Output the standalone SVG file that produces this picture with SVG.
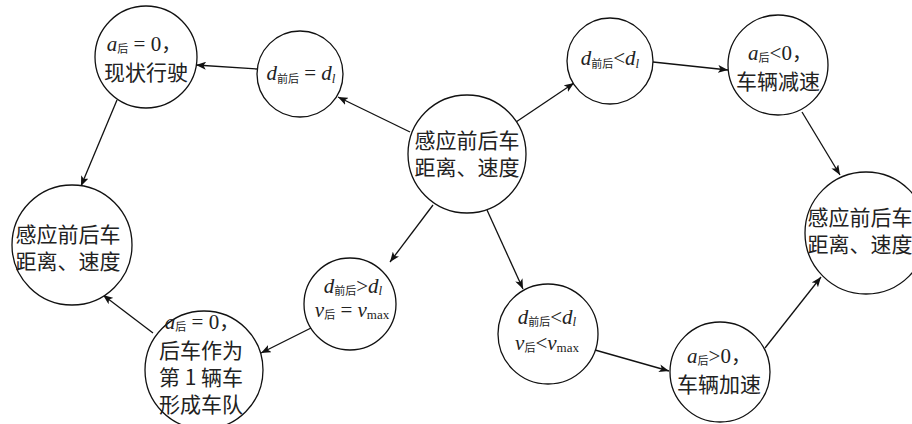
<svg xmlns="http://www.w3.org/2000/svg" width="912" height="424" viewBox="0 0 912 424">
<style>
.node circle{fill:#fff;stroke:#111;stroke-width:1.3}
.cn{font-family:"Noto Sans CJK SC","Noto Sans",sans-serif;font-size:21px;fill:#222;text-anchor:middle}
.m{font-family:"Liberation Serif","Times New Roman",serif;font-size:21px;fill:#222;text-anchor:middle}
.i{font-style:italic}
.s{font-family:"Noto Sans CJK SC",sans-serif;font-size:11px}
.c{font-family:"Noto Sans CJK SC",sans-serif;font-size:20px}
.sl{font-family:"Liberation Serif",serif;font-style:italic;font-size:13px}
.sm{font-family:"Liberation Serif",serif;font-size:13px}
#edges line{stroke:#111;stroke-width:1.3;marker-end:url(#ah)}
</style>
<defs>
<marker id="ah" viewBox="0 0 10 8" refX="10" refY="4" markerWidth="10" markerHeight="8" markerUnits="userSpaceOnUse" orient="auto">
<path d="M0,0 L10,4 L0,8 L2.5,4 Z" fill="#111"/>
</marker>
</defs>
<rect width="912" height="424" fill="#fff"/>
<g id="edges">
<line x1="410" y1="132" x2="338" y2="97"/>
<line x1="257" y1="69" x2="196" y2="65"/>
<line x1="117" y1="100" x2="81" y2="186"/>
<line x1="516" y1="122" x2="574" y2="83"/>
<line x1="653" y1="62" x2="728" y2="70"/>
<line x1="802" y1="112" x2="840" y2="175"/>
<line x1="765" y1="348" x2="821" y2="277"/>
<line x1="433" y1="205" x2="390" y2="262"/>
<line x1="313" y1="327" x2="261" y2="353"/>
<line x1="153" y1="333" x2="103" y2="295"/>
<line x1="487" y1="210" x2="523" y2="289"/>
<line x1="595" y1="350" x2="669" y2="371"/>
</g>
<g id="nA" class="node"><circle cx="146" cy="57" r="51"/>
<text x="144" y="51" class="m"><tspan class="i">a</tspan><tspan class="s" dy="2">后</tspan><tspan dy="-2"> = 0</tspan><tspan class="c">，</tspan></text>
<text x="146" y="80" class="cn">现状行驶</text></g>
<g id="nB" class="node"><circle cx="300" cy="74" r="43"/>
<text x="301" y="80" class="m"><tspan class="i">d</tspan><tspan class="s" dy="3">前后</tspan><tspan dy="-3"> = </tspan><tspan class="i">d</tspan><tspan class="sl" dy="3">l</tspan></text></g>
<g id="nC" class="node"><circle cx="467" cy="154" r="59"/>
<text x="467" y="148" class="cn">感应前后车</text>
<text x="467" y="175" class="cn">距离、速度</text></g>
<g id="nD" class="node"><circle cx="610" cy="61" r="43"/>
<text x="610" y="65" class="m"><tspan class="i">d</tspan><tspan class="s" dy="3">前后</tspan><tspan dy="-3">&lt;</tspan><tspan class="i">d</tspan><tspan class="sl" dy="3">l</tspan></text></g>
<g id="nE" class="node"><circle cx="778" cy="65" r="50"/>
<text x="780" y="60" class="m"><tspan class="i">a</tspan><tspan class="s" dy="2">后</tspan><tspan dy="-2">&lt;0</tspan><tspan class="c">，</tspan></text>
<text x="778" y="89" class="cn">车辆减速</text></g>
<g id="nF" class="node"><circle cx="866" cy="233" r="61"/>
<text x="860" y="225" class="cn">感应前后车</text>
<text x="860" y="252" class="cn">距离、速度</text></g>
<g id="nG" class="node"><circle cx="72" cy="245" r="60"/>
<text x="68" y="242" class="cn">感应前后车</text>
<text x="68" y="269" class="cn">距离、速度</text></g>
<g id="nH" class="node"><circle cx="204" cy="370" r="59"/>
<text x="202" y="329" class="m"><tspan class="i">a</tspan><tspan class="s" dy="2">后</tspan><tspan dy="-2"> = 0</tspan><tspan class="c">，</tspan></text>
<text x="201" y="358" class="cn">后车作为</text>
<text x="201" y="385" class="cn">第 1 辆车</text>
<text x="201" y="412" class="cn">形成车队</text></g>
<g id="nI" class="node"><circle cx="350" cy="304" r="46"/>
<text x="353" y="293" class="m"><tspan class="i">d</tspan><tspan class="s" dy="2">前后</tspan><tspan dy="-2">&gt;</tspan><tspan class="i">d</tspan><tspan class="sl" dy="2">l</tspan></text>
<text x="352" y="317" class="m"><tspan class="i">v</tspan><tspan class="s" dy="2">后</tspan><tspan dy="-2"> = </tspan><tspan class="i">v</tspan><tspan class="sm" dy="2">max</tspan></text></g>
<g id="nJ" class="node"><circle cx="548" cy="334" r="50"/>
<text x="547" y="324" class="m"><tspan class="i">d</tspan><tspan class="s" dy="2">前后</tspan><tspan dy="-2">&lt;</tspan><tspan class="i">d</tspan><tspan class="sl" dy="2">l</tspan></text>
<text x="547" y="350" class="m"><tspan class="i">v</tspan><tspan class="s" dy="2">后</tspan><tspan dy="-2">&lt;</tspan><tspan class="i">v</tspan><tspan class="sm" dy="2">max</tspan></text></g>
<g id="nK" class="node"><circle cx="720" cy="372" r="50"/>
<text x="719" y="363" class="m"><tspan class="i">a</tspan><tspan class="s" dy="2">后</tspan><tspan dy="-2">&gt;0</tspan><tspan class="c">，</tspan></text>
<text x="719" y="392" class="cn">车辆加速</text></g>
</svg>
